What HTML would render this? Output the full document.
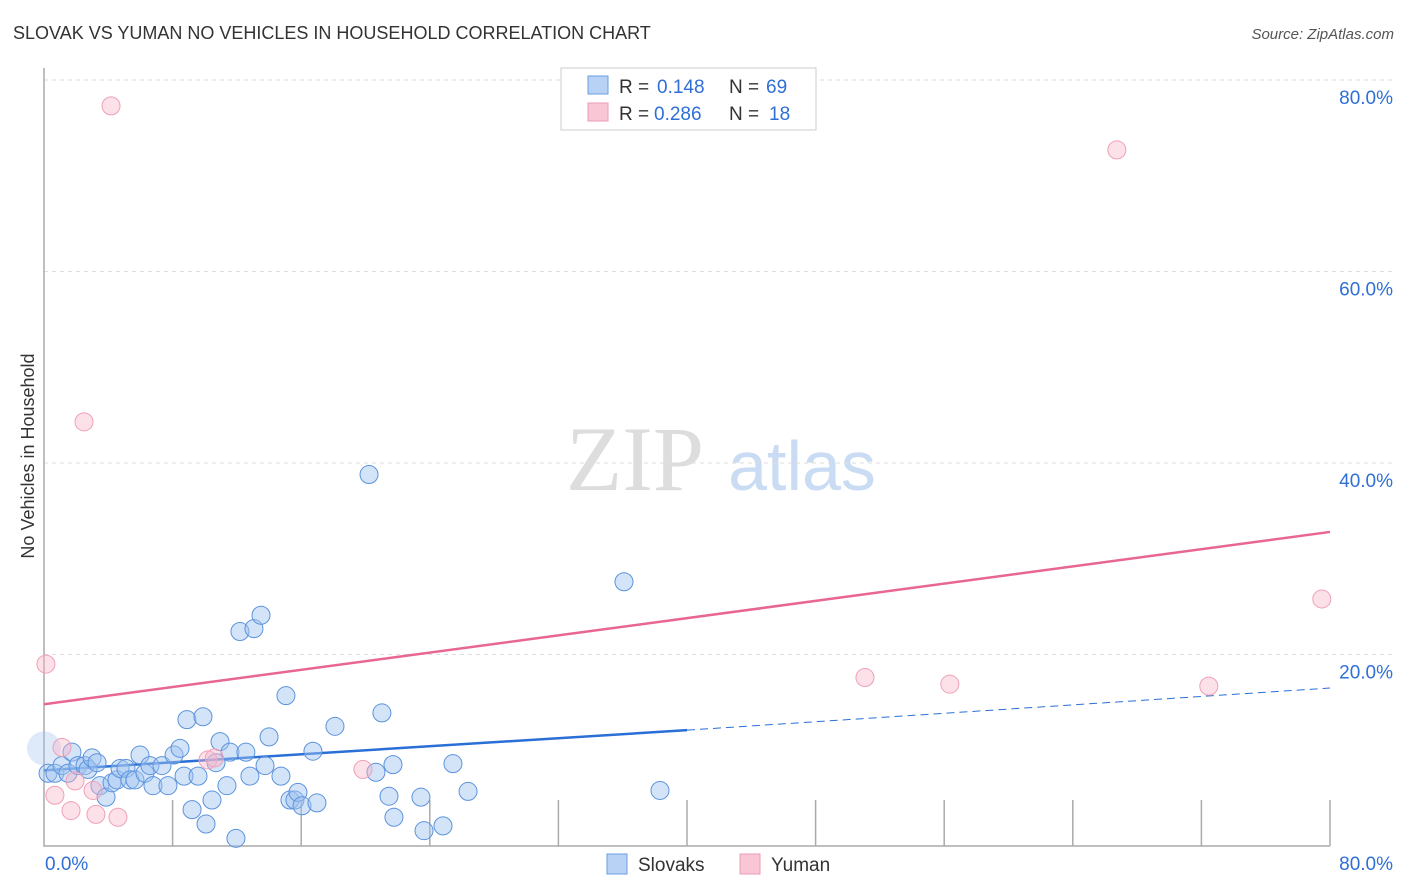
<!DOCTYPE html>
<html><head><meta charset="utf-8"><style>
body{margin:0;background:#fff;font-family:"Liberation Sans",sans-serif}
svg{display:block}
</style></head><body>
<svg id="c" width="1406" height="892" xmlns="http://www.w3.org/2000/svg">
<text x="13" y="39" font-size="18" fill="#333">SLOVAK VS YUMAN NO VEHICLES IN HOUSEHOLD CORRELATION CHART</text>
<text x="1394" y="39" font-size="15" fill="#555" font-style="italic" text-anchor="end">Source: ZipAtlas.com</text>
<text x="34" y="456" font-size="18" fill="#333" text-anchor="middle" transform="rotate(-90 34 456)">No Vehicles in Household</text>
<g><text x="635" y="490" font-size="92" fill="#ddd" font-family="Liberation Serif,serif" text-anchor="middle">ZIP</text><text x="802" y="490" font-size="70" fill="#c9dcf3" text-anchor="middle">atlas</text></g>
<g id="grid"></g><g id="axes"></g><g id="lines"></g><g id="pts"></g>
<g>
<rect x="561" y="68" width="255" height="62" fill="#fff" stroke="#ccc"/>
<rect x="588" y="76" width="20" height="18" fill="#b7d2f5" stroke="#6a9de0"/>
<rect x="588" y="103" width="20" height="18" fill="#f9c6d5" stroke="#ee9ab4"/>
<text x="619" y="93" font-size="19" fill="#333">R =</text><text x="657" y="93" font-size="19" fill="#2f6fd6">0.148</text>
<text x="729" y="93" font-size="19" fill="#333">N =</text><text x="766" y="93" font-size="19" fill="#2f6fd6">69</text>
<text x="619" y="120" font-size="19" fill="#333">R =</text><text x="654" y="120" font-size="19" fill="#2f6fd6">0.286</text>
<text x="729" y="120" font-size="19" fill="#333">N =</text><text x="769" y="120" font-size="19" fill="#2f6fd6">18</text>
</g>
<g>
<rect x="607" y="854" width="20" height="20" fill="#b7d2f5" stroke="#6a9de0"/>
<text x="638" y="871" font-size="19" fill="#333">Slovaks</text>
<rect x="740" y="854" width="20" height="20" fill="#f9c6d5" stroke="#ee9ab4"/>
<text x="771" y="871" font-size="19" fill="#333">Yuman</text>
</g>
</svg>
<script>
const yTicks=[20,40,60,80];
const xTickLabels=["0.0%","80.0%"];
const blueX=[0.25,0.68,1.12,1.49,1.74,2.11,2.55,2.74,2.99,3.30,3.48,3.86,4.23,4.54,4.73,5.10,5.35,5.66,5.97,6.28,6.59,6.78,7.34,7.71,8.09,8.46,8.71,8.89,9.21,9.58,9.89,10.08,10.45,10.70,10.95,11.38,11.57,11.94,12.19,12.56,12.81,13.06,13.50,13.75,14.00,14.74,15.05,15.30,15.61,15.80,16.05,16.73,16.98,18.10,20.22,20.65,21.02,21.46,21.71,21.77,23.45,23.64,24.82,25.44,26.38,36.08,38.32];
const blueY=[7.6,7.6,8.4,7.6,9.8,8.4,8.4,8.0,9.2,8.7,6.3,5.1,6.6,6.9,8.1,8.1,6.9,6.9,9.5,7.6,8.4,6.3,8.4,6.3,9.5,10.2,7.3,13.2,3.8,7.3,13.5,2.3,4.8,8.7,10.9,6.3,9.8,0.8,22.4,9.8,7.3,22.7,24.1,8.4,11.4,7.3,15.7,4.8,4.8,5.6,4.2,9.9,4.5,12.5,38.8,7.7,13.9,5.2,8.5,3.0,5.1,1.6,2.1,8.6,5.7,27.6,5.8];
const pinkX=[0.12,4.17,2.49,1.12,0.68,1.93,3.05,1.68,3.23,4.60,10.2,10.6,19.84,51.07,56.35,66.74,72.46,79.49];
const pinkY=[19.0,77.3,44.3,10.3,5.3,6.8,5.8,3.7,3.3,3.0,9.0,9.2,8.0,17.6,16.9,72.7,16.7,25.8];
const blueTrend=[7.9,12.1,16.5];
const pinkTrend=[14.8,32.8];
const X=v=>44+v/80*1286, Y=v=>846-v*9.575;
const NS="http://www.w3.org/2000/svg";
function mk(p,t,a){const e=document.createElementNS(NS,t);for(const k in a)e.setAttribute(k,a[k]);document.getElementById(p).appendChild(e);return e;}
yTicks.forEach(t=>{
 const l=mk('grid','line',{x1:44,x2:1394,y1:Y(t),y2:Y(t),stroke:'#ddd','stroke-dasharray':'4,4'});
 
 
 const tx=mk('grid','text',{x:1393,y:Y(t)+24,'font-size':19,fill:'#2f6fd6','text-anchor':'end'});
 tx.textContent=t.toFixed(1)+'%';
 
 
});
const ax=mk('axes','path',{d:'M44,68V846H1330',stroke:'#aaa',fill:'none','stroke-width':1.5});


for(let i=1;i<=10;i++){const l=mk('axes','line',{x1:X(i*8),x2:X(i*8),y1:800,y2:846,stroke:'#aaa','stroke-width':1.5});
 
 }
const t0=mk('axes','text',{x:45,y:870,'font-size':19,fill:'#2f6fd6'});t0.textContent=xTickLabels[0];


const t1=mk('axes','text',{x:1393,y:870,'font-size':19,fill:'#2f6fd6','text-anchor':'end'});t1.textContent=xTickLabels[1];


const big=mk('pts','circle',{cx:X(0),cy:Y(10.2),r:17,fill:'rgba(160,196,240,0.35)',stroke:'none'});


blueX.forEach((x,i)=>{const c=mk('pts','circle',{cx:X(x),cy:Y(blueY[i]),r:9,fill:'rgba(160,196,240,0.45)',stroke:'#5b93dd','stroke-width':1});
 
 });
pinkX.forEach((x,i)=>{const c=mk('pts','circle',{cx:X(x),cy:Y(pinkY[i]),r:9,fill:'rgba(248,180,200,0.4)',stroke:'#f0a0b8','stroke-width':1});
 
 });
const bl=mk('lines','line',{x1:X(0),y1:Y(blueTrend[0]),x2:X(40),y2:Y(blueTrend[1]),stroke:'#2a6fd6','stroke-width':2.5});


const bd=mk('lines','line',{x1:X(40),y1:Y(blueTrend[1]),x2:X(80),y2:Y(blueTrend[2]),stroke:'#2a6fd6','stroke-width':1,'stroke-dasharray':'8,5'});


const pl=mk('lines','line',{x1:X(0),y1:Y(pinkTrend[0]),x2:X(80),y2:Y(pinkTrend[1]),stroke:'#e86690','stroke-width':2.5});


</script>
</body></html>
